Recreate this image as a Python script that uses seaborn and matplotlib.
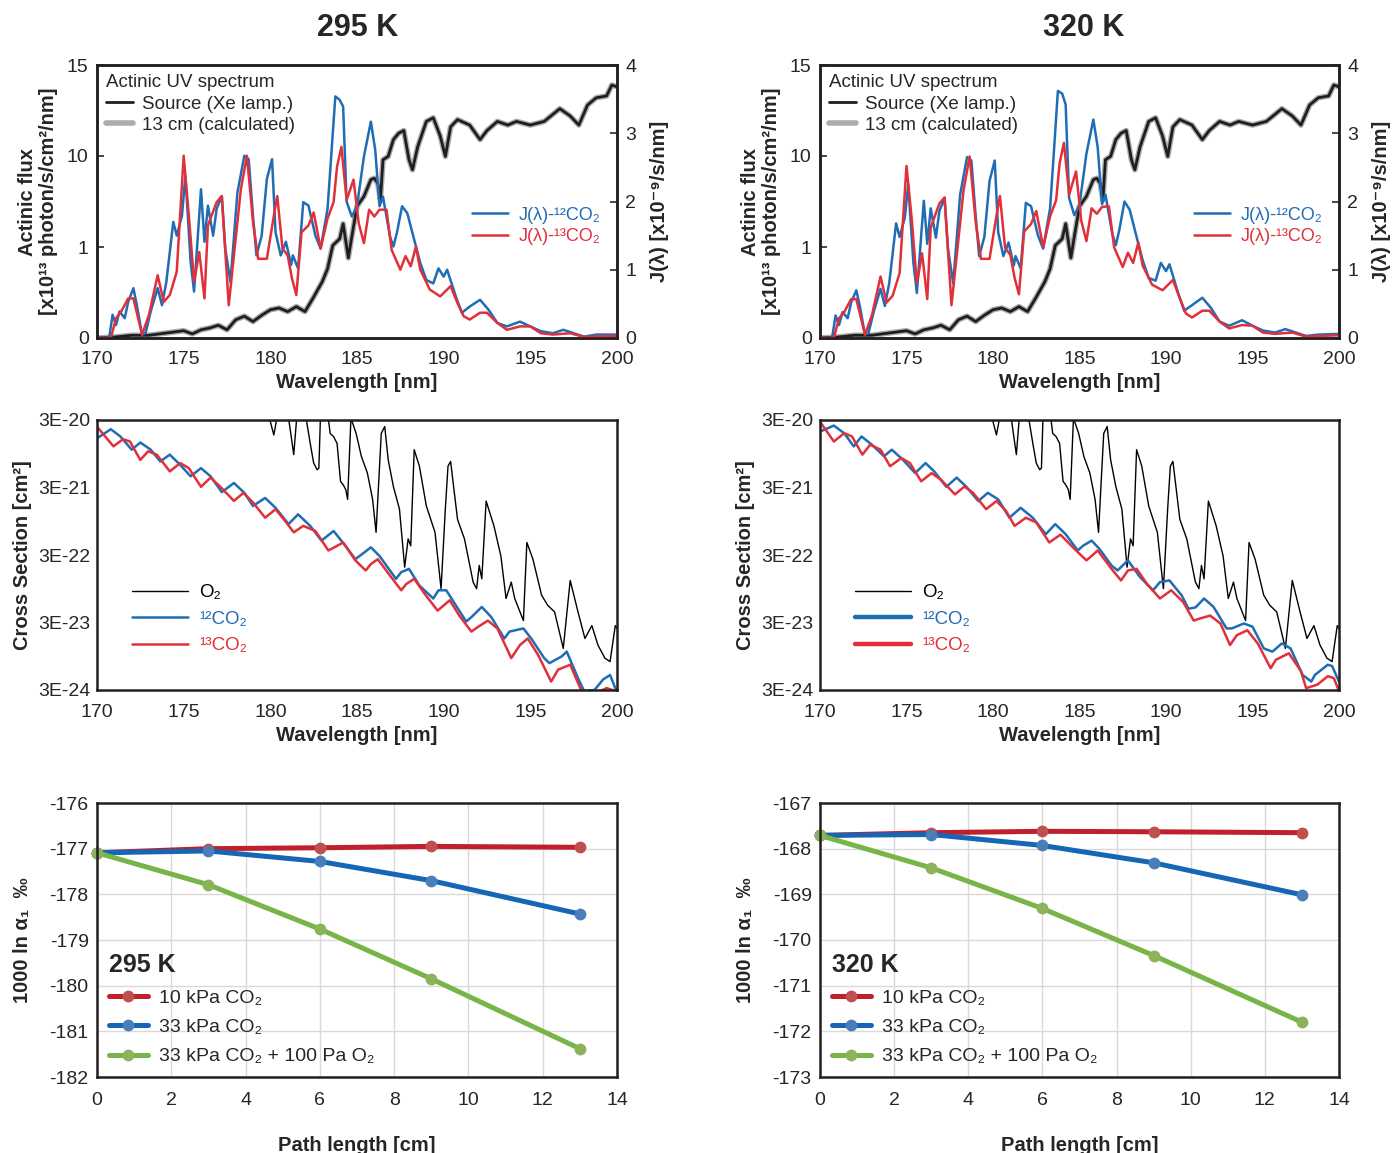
import numpy as np
import matplotlib
matplotlib.use("Agg")
import matplotlib.pyplot as plt
import seaborn as sns
from matplotlib.ticker import NullLocator

# ---------------- data ----------------
# Xe lamp source actinic flux [x1e13 photon/s/cm2/nm]
src_wl = [170.0, 171.0, 172.0, 173.0, 174.0, 175.0, 175.5, 176.0, 176.5, 177.0, 177.5, 178.0,
          178.5, 179.0, 179.5, 180.0, 180.5, 181.0, 181.5, 182.0, 182.5, 183.0, 183.3, 183.6,
          184.0, 184.2, 184.5, 184.7, 185.0, 185.4, 185.8, 186.0, 186.2, 186.35, 186.5, 186.8,
          187.1, 187.4, 187.7, 188.0, 188.2, 188.5, 189.0, 189.4, 189.8, 190.1, 190.4, 190.8,
          191.5, 192.1, 192.5, 193.1, 193.7, 194.2, 195.0, 195.8, 196.7, 197.3, 197.8, 198.3,
          198.8, 199.4, 199.7, 200.0]
src_flux = [0.0, 0.01, 0.03, 0.03, 0.055, 0.08, 0.045, 0.09, 0.11, 0.14, 0.09, 0.2,
            0.24, 0.18, 0.25, 0.31, 0.33, 0.29, 0.345, 0.29, 0.45, 0.62, 0.76, 1.04,
            1.23, 1.8, 0.88, 1.3, 2.8, 3.6, 5.5, 5.7, 5.0, 3.3, 9.1, 9.9,
            10.9, 11.25, 11.4, 9.1, 7.05, 10.5, 11.9, 12.1, 11.1, 9.9, 11.6, 12.0,
            11.7, 10.9, 11.4, 11.9, 11.7, 11.9, 11.7, 11.9, 12.6, 12.2, 11.7, 12.8,
            13.2, 13.3, 13.9, 13.8]

# photolysis rate J(lambda) [x1e-9 /s/nm]
j12_wl = [170.0, 170.7, 170.9, 171.1, 171.3, 171.6, 171.8, 172.1, 172.3, 172.6, 172.8, 173.1,
          173.5, 173.75, 174.0, 174.4, 174.6, 174.9, 175.1, 175.4, 175.6, 176.0, 176.2, 176.4,
          176.7, 176.9, 177.2, 177.4, 177.7, 178.1, 178.5, 178.75, 179.0, 179.2, 179.5, 179.8,
          180.1, 180.3, 180.6, 180.9, 181.2, 181.3, 181.6, 181.9, 182.2, 182.6, 182.9, 183.3,
          183.5, 183.75, 184.0, 184.2, 184.4, 184.7, 185.0, 185.4, 185.8, 186.05, 186.3, 186.5,
          186.9, 187.1, 187.3, 187.6, 187.9, 188.3, 188.65, 189.0, 189.4, 189.7, 190.0, 190.2,
          190.7, 191.05, 191.5, 192.1, 192.6, 193.1, 193.65, 194.4, 195.0, 195.6, 196.3, 196.9,
          197.5, 198.1, 198.8, 199.9]
j12_295 = [0.0, 0.0, 0.34, 0.19, 0.39, 0.29, 0.53, 0.73, 0.48, 0.05, 0.07, 0.39,
           0.73, 0.48, 0.82, 1.70, 1.50, 1.79, 2.38, 1.12, 0.68, 2.18, 1.41, 1.94,
           1.50, 1.89, 2.08, 1.31, 0.82, 2.13, 2.67, 2.62, 1.79, 1.21, 1.50, 2.33,
           2.62, 1.55, 1.21, 1.41, 1.07, 1.21, 1.02, 1.99, 1.94, 1.50, 1.31, 1.89,
           2.62, 3.54, 3.49, 3.39, 2.0, 1.78, 1.93, 2.66, 3.17, 2.76, 1.93, 2.07,
           1.49, 1.34, 1.54, 1.93, 1.83, 1.44, 1.10, 0.85, 0.80, 1.02, 0.90, 1.00,
           0.61, 0.37, 0.46, 0.56, 0.41, 0.22, 0.17, 0.24, 0.17, 0.10, 0.07, 0.12,
           0.07, 0.02, 0.05, 0.05]
j12_320 = [0.0, 0.0, 0.33, 0.19, 0.38, 0.29, 0.52, 0.70, 0.47, 0.05, 0.07, 0.38,
           0.72, 0.47, 0.80, 1.68, 1.48, 1.76, 2.25, 1.10, 0.66, 2.01, 1.38, 1.90,
           1.47, 1.86, 2.05, 1.30, 0.80, 2.10, 2.65, 2.60, 1.78, 1.20, 1.48, 2.30,
           2.60, 1.55, 1.20, 1.40, 1.06, 1.20, 1.02, 1.98, 1.93, 1.50, 1.31, 1.90,
           2.65, 3.62, 3.58, 3.42, 2.05, 1.80, 1.95, 2.70, 3.20, 2.80, 1.96, 2.10,
           1.52, 1.36, 1.58, 2.00, 1.88, 1.48, 1.14, 0.88, 0.84, 1.10, 0.98, 1.08,
           0.66, 0.40, 0.48, 0.59, 0.44, 0.24, 0.18, 0.26, 0.18, 0.11, 0.08, 0.13,
           0.08, 0.03, 0.05, 0.06]

j13_wl = [170.0, 170.8, 171.1, 171.4, 171.8, 172.1, 172.6, 173.0, 173.5, 173.85, 174.2, 174.6,
          175.0, 175.3, 175.6, 175.9, 176.2, 176.4, 176.9, 177.2, 177.6, 177.9, 178.3, 178.65,
          179.0, 179.3, 179.8, 180.2, 180.4, 180.7, 181.0, 181.25, 181.5, 181.8, 182.2, 182.5,
          182.9, 183.3, 183.65, 183.85, 184.1, 184.4, 184.8, 185.1, 185.4, 185.7, 186.0, 186.3,
          186.7, 187.0, 187.5, 187.8, 188.1, 188.4, 188.65, 189.2, 189.8, 190.4, 190.8, 191.15,
          191.5, 192.1, 192.5, 193.1, 193.65, 194.4, 195.0, 195.6, 196.3, 197.3, 198.1, 198.8,
          200.0]
j13_295 = [0.0, 0.0, 0.29, 0.39, 0.58, 0.58, 0.05, 0.34, 0.92, 0.53, 0.63, 0.97,
           2.67, 1.79, 0.82, 1.26, 0.58, 1.65, 1.99, 2.08, 0.48, 1.21, 2.18, 2.67,
           1.70, 1.16, 1.16, 1.79, 2.08, 1.31, 1.21, 0.87, 0.63, 1.55, 1.65, 1.84,
           1.31, 1.75, 1.99, 2.51, 2.80, 2.02, 2.32, 1.68, 1.39, 1.88, 1.78, 1.88,
           1.88, 1.29, 1.00, 1.20, 1.05, 1.34, 1.00, 0.71, 0.61, 0.76, 0.51, 0.32,
           0.27, 0.37, 0.37, 0.22, 0.12, 0.17, 0.17, 0.07, 0.05, 0.07, 0.015, 0.02,
           0.03]
j13_320 = [0.0, 0.0, 0.29, 0.38, 0.57, 0.57, 0.05, 0.33, 0.90, 0.52, 0.62, 0.95,
           2.52, 1.75, 0.80, 1.24, 0.57, 1.62, 1.97, 2.06, 0.48, 1.20, 2.17, 2.66,
           1.70, 1.16, 1.16, 1.79, 2.08, 1.32, 1.22, 0.88, 0.64, 1.56, 1.67, 1.86,
           1.33, 1.78, 2.02, 2.56, 2.86, 2.10, 2.44, 1.72, 1.42, 1.90, 1.82, 1.92,
           1.93, 1.33, 1.04, 1.25, 1.10, 1.40, 1.06, 0.78, 0.70, 0.85, 0.58, 0.36,
           0.30, 0.40, 0.40, 0.24, 0.14, 0.19, 0.18, 0.08, 0.06, 0.08, 0.02, 0.03,
           0.04]

# cross sections [cm2]
xs12_wl_295 = [170.0, 170.8, 171.35, 172.0, 172.5, 173.1, 173.65, 174.2, 174.8, 175.4, 176.0,
               176.55, 177.2, 177.9, 178.5, 179.0, 179.7, 180.3, 181.05, 181.6, 182.3, 182.95,
               183.65, 184.4, 184.9, 185.3, 185.8, 186.3, 186.9, 187.25, 187.55, 188.0, 188.6,
               189.4, 189.7, 190.15, 190.7, 191.3, 191.6, 192.2, 192.75, 193.5, 193.8, 194.6,
               195.05, 195.8, 196.1, 196.8, 197.1, 197.75, 198.1, 198.7, 199.2, 199.6, 199.9,
               200.0]
xs12_295 = [1.61e-20, 2.19e-20, 1.71e-20, 1.09e-20, 1.39e-20, 1.09e-20, 7.3e-21, 9.2e-21, 6.5e-21,
            4.4e-21, 5.8e-21, 4.4e-21, 2.56e-21, 3.5e-21, 2.5e-21, 1.6e-21, 2.1e-21, 1.5e-21,
            8.6e-22, 1.2e-21, 8.1e-22, 4.9e-22, 6.8e-22, 3.9e-22, 2.6e-22, 3.1e-22, 3.9e-22,
            2.9e-22, 1.77e-22, 1.33e-22, 1.67e-22, 1.87e-22, 1.06e-22, 6.8e-23, 9.0e-23, 9.0e-23,
            5.4e-23, 3.1e-23, 3.6e-23, 5.1e-23, 3.6e-23, 1.74e-23, 2.2e-23, 2.45e-23, 1.74e-23,
            8.9e-24, 7.5e-24, 9.4e-24, 1.11e-23, 4.5e-24, 2.9e-24, 3.0e-24, 4.3e-24, 5.0e-24,
            3.2e-24, 2.9e-24]
xs13_wl_295 = [170.0, 170.95, 171.5, 171.9, 172.5, 172.95, 173.45, 174.2, 174.8, 175.3, 176.0,
               176.55, 177.1, 177.9, 178.45, 179.0, 179.7, 180.3, 180.85, 181.35, 181.9, 182.6,
               183.35, 183.85, 184.2, 184.9, 185.5, 185.8, 186.2, 186.9, 187.55, 187.85, 188.3,
               188.9, 189.65, 190.35, 190.9, 191.6, 192.0, 192.55, 193.1, 193.9, 194.4, 194.85,
               195.45, 196.2, 196.6, 197.3, 197.95, 198.5, 199.4, 199.9, 200.0]
xs13_295 = [2.39e-20, 1.22e-20, 1.56e-20, 1.44e-20, 7.7e-21, 1.03e-20, 9.2e-21, 5.2e-21, 6.9e-21,
            5.8e-21, 3.07e-21, 4.2e-21, 3.1e-21, 1.9e-21, 2.5e-21, 1.8e-21, 1.07e-21, 1.43e-21,
            9.6e-22, 6.5e-22, 8.1e-22, 6.8e-22, 3.5e-22, 4.1e-22, 4.6e-22, 2.5e-22, 1.77e-22,
            2.2e-22, 2.6e-22, 1.49e-22, 9.0e-23, 1.12e-22, 1.33e-22, 8.0e-23, 4.5e-23, 6.4e-23,
            3.8e-23, 2.2e-23, 2.6e-23, 3.2e-23, 2.45e-23, 8.9e-24, 1.39e-23, 1.74e-23, 9.9e-24,
            4.0e-24, 6.0e-24, 7.1e-24, 2.9e-24, 2.5e-24, 3.2e-24, 2.9e-24, 2.8e-24]

xs12_wl_320 = [170.0, 170.8, 171.4, 171.95, 172.4, 173.0, 173.7, 174.15, 174.8, 175.5, 176.1,
               176.6, 177.3, 177.9, 178.45, 179.15, 179.7, 180.3, 180.95, 181.6, 182.3, 183.05,
               183.6, 184.2, 184.9, 185.2, 185.7, 186.15, 186.85, 187.2, 187.8, 188.5, 189.25,
               189.65, 190.2, 190.9, 191.3, 191.7, 192.2, 192.75, 193.5, 193.8, 194.5, 195.0,
               195.65, 196.15, 196.7, 197.2, 197.9, 198.4, 198.6, 199.35, 199.6, 200.0]
xs12_320 = [2.02e-20, 2.48e-20, 1.91e-20, 1.22e-20, 1.71e-20, 1.29e-20, 8.7e-21, 1.09e-20, 7.7e-21,
            4.9e-21, 6.9e-21, 5.2e-21, 3.07e-21, 4.2e-21, 3.1e-21, 1.89e-21, 2.5e-21, 2.0e-21,
            1.07e-21, 1.5e-21, 1.07e-21, 6.1e-22, 8.6e-22, 6.1e-22, 3.5e-22, 4.1e-22, 4.9e-22,
            3.7e-22, 2.1e-22, 1.77e-22, 2.5e-22, 1.41e-22, 9.0e-23, 1.19e-22, 1.26e-22, 7.6e-23,
            4.8e-23, 5.0e-23, 6.8e-23, 5.1e-23, 2.45e-23, 2.45e-23, 2.9e-23, 2.6e-23, 1.24e-23,
            1.11e-23, 1.47e-23, 1.24e-23, 5.0e-24, 4.0e-24, 5.0e-24, 7.1e-24, 6.8e-24, 4.0e-24]
xs13_wl_320 = [170.0, 170.8, 171.4, 171.85, 172.45, 172.9, 173.5, 174.05, 174.7, 175.2, 175.85,
               176.45, 177.0, 177.8, 178.35, 178.85, 179.6, 180.2, 180.75, 181.25, 181.9, 182.5,
               183.25, 183.9, 184.8, 185.4, 185.7, 186.05, 186.85, 187.4, 187.8, 188.3, 188.9,
               189.65, 190.3, 191.0, 191.6, 191.9, 192.55, 193.15, 193.7, 194.1, 194.7, 195.3,
               196.05, 196.35, 197.1, 197.8, 198.1, 198.75, 199.35, 199.7, 200.0]
xs13_320 = [2.83e-20, 1.44e-20, 1.91e-20, 1.71e-20, 9.2e-21, 1.29e-20, 1.09e-20, 6.2e-21, 8.2e-21,
            6.9e-21, 3.7e-21, 4.9e-21, 3.9e-21, 2.37e-21, 3.1e-21, 2.5e-21, 1.43e-21, 1.89e-21,
            1.35e-21, 8.1e-22, 1.07e-21, 9.1e-22, 4.6e-22, 6.0e-22, 3.5e-22, 2.5e-22, 2.9e-22,
            3.5e-22, 1.87e-22, 1.26e-22, 1.77e-22, 1.87e-22, 1.12e-22, 6.8e-23, 9.0e-23, 6.0e-23,
            3.2e-23, 3.4e-23, 3.8e-23, 2.9e-23, 1.39e-23, 1.95e-23, 2.3e-23, 1.47e-23, 6.3e-24,
            8.4e-24, 1.05e-23, 5.7e-24, 3.2e-24, 3.6e-24, 4.8e-24, 4.5e-24, 2.9e-24]

o2_wl = [179.85, 180.2, 180.45, 181.0, 181.35, 181.55, 182.0, 182.3, 182.5, 182.7, 182.8, 182.9,
         183.3, 183.45, 183.65, 183.85, 184.05, 184.2, 184.35, 184.46, 184.65, 184.95, 185.25,
         185.6, 185.9, 186.1, 186.4, 186.6, 186.8, 187.1, 187.45, 187.75, 187.95, 188.1, 188.3,
         188.6, 189.0, 189.5, 189.85, 190.1, 190.25, 190.4, 190.8, 191.2, 191.7, 191.9, 192.05,
         192.2, 192.45, 192.9, 193.3, 193.6, 193.9, 194.1, 194.6, 194.8, 195.15, 195.65, 196.0,
         196.4, 196.9, 197.3, 197.75, 198.15, 198.55, 198.9, 199.3, 199.6, 199.9, 200.0]
o2_xs = [4e-20, 1.8e-20, 4e-20, 4e-20, 9.2e-21, 4e-20, 4e-20, 1.36e-20, 6.9e-21, 5.5e-21, 5.8e-21, 4e-20,
         4e-20, 1.9e-20, 1.7e-20, 1.35e-20, 3.7e-21, 3.3e-21, 2.8e-21, 2.0e-21, 3.2e-20, 1.9e-20, 8.7e-21,
         4.9e-21, 2.0e-21, 6.5e-22, 1.9e-20, 2.4e-20, 7.7e-21, 3.1e-21, 1.43e-21, 1.98e-22, 5.2e-22, 4.1e-22,
         1.09e-20, 6.2e-21, 1.6e-21, 6.5e-22, 9.5e-23, 1.5e-21, 6.2e-21, 7.3e-21, 1.01e-21, 5.2e-22,
         1.19e-22, 9.5e-23, 2.1e-22, 1.33e-22, 1.89e-21, 8.1e-22, 2.9e-22, 6.8e-23, 1.19e-22, 6.8e-23,
         3.2e-23, 4.6e-22, 2.6e-22, 7.6e-23, 5.4e-23, 4.3e-23, 1.24e-23, 1.26e-22, 4.3e-23, 1.74e-23,
         2.7e-23, 1.39e-23, 8.9e-24, 7.9e-24, 2.7e-23, 2.45e-23]

# 1000 ln(alpha1) [permil] versus path length
path_cm = [0, 3, 6, 9, 13]
d10_295 = [-177.09, -177.00, -176.98, -176.95, -176.97]
d33_295 = [-177.09, -177.05, -177.28, -177.70, -178.43]
d33o2_295 = [-177.09, -177.79, -178.76, -179.85, -181.38]
d10_320 = [-167.71, -167.65, -167.62, -167.63, -167.65]
d33_320 = [-167.71, -167.69, -167.93, -168.31, -169.01]
d33o2_320 = [-167.71, -168.42, -169.31, -170.34, -171.80]

# ---------------- style ----------------
sns.set_theme(style="white")
plt.rcParams["font.family"] = ["Liberation Sans", "DejaVu Sans"]
plt.rcParams["axes.edgecolor"] = "#231f20"
plt.rcParams["axes.linewidth"] = 1.8
plt.rcParams["axes.unicode_minus"] = False

BLUE = "#1f6db5"
RED = "#e1303a"
DARK = "#1e1e1e"
GRAY = "#a3a3a3"
TICK = 14
LAB = 14.5


def flux_fwd(v):
    v = np.asarray(v, dtype=float)
    lo = v / 3.0
    mid = (1.0 + np.log10(np.clip(v, 1.0, 10.0))) / 3.0
    hi = 2.0 / 3.0 + (v - 10.0) / 15.0
    return np.where(v <= 1, lo, np.where(v <= 10, mid, hi))


def flux_inv(f):
    f = np.asarray(f, dtype=float)
    lo = 3.0 * f
    mid = 10.0 ** (3.0 * np.clip(f, 1 / 3, 2 / 3) - 1.0)
    hi = 10.0 + 15.0 * (f - 2 / 3)
    return np.where(f <= 1 / 3, lo, np.where(f <= 2 / 3, mid, hi))


def flux_panel(ax, j12, j13):
    sns.lineplot(x=src_wl, y=src_flux, ax=ax, color=GRAY, lw=4.0, alpha=0.9, label="13 cm (calculated)")
    sns.lineplot(x=src_wl, y=src_flux, ax=ax, color=DARK, lw=2.0, label="Source (Xe lamp.)")
    ax.set_yscale("function", functions=(flux_fwd, flux_inv))
    ax.set_xlim(170, 200)
    ax.set_ylim(0, 15)
    ax.set_yticks([0, 1, 10, 15])
    ax.set_yticklabels(["0", "1", "10", "15"])
    ax.set_xticks(range(170, 201, 5))
    ax.tick_params(direction="in", length=5, width=1.2, labelsize=TICK, pad=6)
    ax.tick_params(axis="x", pad=9)
    ax.set_xlabel("Wavelength [nm]", fontsize=LAB, fontweight="bold", labelpad=4)
    ax.set_ylabel("Actinic flux\n[x10¹³ photon/s/cm²/nm]", fontsize=LAB, fontweight="bold",
                  linespacing=1.15)
    ax.yaxis.set_label_coords(-0.075, 0.5)
    h, l = ax.get_legend_handles_labels()
    ax.legend(handles=[h[1], h[0]], labels=[l[1], l[0]], title="Actinic UV spectrum",
              loc="upper left", frameon=False, alignment="left", fontsize=13.5,
              title_fontsize=13.5, handlelength=1.4, handletextpad=0.5,
              labelspacing=0.22, borderaxespad=0.1)

    ax2 = ax.twinx()
    sns.lineplot(x=j12_wl, y=j12, ax=ax2, color=BLUE, lw=1.8, label="J(λ)-¹²CO₂")
    sns.lineplot(x=j13_wl, y=j13, ax=ax2, color=RED, lw=1.8, label="J(λ)-¹³CO₂")
    ax2.set_ylim(0, 4)
    ax2.set_yticks([0, 1, 2, 3, 4])
    ax2.tick_params(direction="in", length=5, width=1.2, labelsize=TICK, pad=6)
    ax2.set_ylabel("J(λ) [x10⁻⁹/s/nm]", fontsize=LAB, fontweight="bold", labelpad=10)
    leg = ax2.legend(loc="center right", bbox_to_anchor=(1.0, 0.41), frameon=False,
                     fontsize=13, handlelength=2.0, handletextpad=0.6, labelspacing=0.25)
    for t, c in zip(leg.get_texts(), [BLUE, RED]):
        t.set_color(c)
    for s in ax2.spines.values():
        s.set_linewidth(1.8)


def xsec_panel(ax, wl12, xs12, wl13, xs13, thick_leg):
    sns.lineplot(x=o2_wl, y=o2_xs, ax=ax, color="black", lw=1.0, label="O₂")
    sns.lineplot(x=wl12, y=xs12, ax=ax, color=BLUE, lw=1.8, label="¹²CO₂")
    sns.lineplot(x=wl13, y=xs13, ax=ax, color=RED, lw=1.8, label="¹³CO₂")
    ax.set_yscale("log")
    ax.set_xlim(170, 200)
    ax.set_ylim(3e-24, 3e-20)
    ax.set_yticks([3e-24, 3e-23, 3e-22, 3e-21, 3e-20])
    ax.set_yticklabels(["3E-24", "3E-23", "3E-22", "3E-21", "3E-20"])
    ax.yaxis.set_minor_locator(NullLocator())
    ax.set_xticks(range(170, 201, 5))
    ax.tick_params(direction="in", length=5, width=1.2, labelsize=TICK, pad=5)
    ax.tick_params(axis="x", pad=10)
    ax.set_xlabel("Wavelength [nm]", fontsize=LAB, fontweight="bold", labelpad=4)
    ax.set_ylabel("Cross Section [cm²]", fontsize=LAB, fontweight="bold")
    ax.yaxis.set_label_coords(-0.125, 0.5)
    leg = ax.legend(loc="lower left", bbox_to_anchor=(0.035, 0.07), frameon=False,
                    fontsize=13.5, handlelength=3.0, handletextpad=0.6, labelspacing=0.5)
    for t, ln, c in zip(leg.get_texts(), leg.get_lines(), ["black", BLUE, RED]):
        t.set_color(c)
        if thick_leg and c != "black":
            ln.set_linewidth(3.2)


def ratio_panel(ax, d10, d33, d33o2, temp, ylo):
    kw = dict(marker="o", ms=8.5, mew=0, lw=3.6)
    sns.lineplot(x=path_cm, y=d10, ax=ax, color="#c0202c", mfc="#c0504d", mec="#c0504d",
                 label="10 kPa CO₂", **kw)
    sns.lineplot(x=path_cm, y=d33, ax=ax, color="#1566b5", mfc="#4a7ebb", mec="#4a7ebb",
                 label="33 kPa CO₂", **kw)
    sns.lineplot(x=path_cm, y=d33o2, ax=ax, color="#78b548", mfc="#8cb25a", mec="#8cb25a",
                 label="33 kPa CO₂ + 100 Pa O₂", **kw)
    for ln in ax.get_lines():
        ln.set_clip_on(False)
    ax.set_xlim(0, 14)
    ax.set_ylim(ylo, ylo + 6)
    ax.set_xticks(range(0, 15, 2))
    ax.set_yticks(range(ylo, ylo + 7))
    ax.grid(True, color="#d9d9d9", lw=1.0)
    ax.tick_params(length=0, labelsize=TICK)
    ax.tick_params(axis="x", pad=11)
    ax.tick_params(axis="y", pad=6)
    ax.set_xlabel("Path length [cm]", fontsize=LAB, fontweight="bold", labelpad=19)
    ax.set_ylabel("1000 ln α₁  ‰", fontsize=LAB, fontweight="bold")
    ax.yaxis.set_label_coords(-0.125, 0.5)
    ax.legend(title=temp, loc="lower left", bbox_to_anchor=(0.0, 0.0), frameon=False,
              alignment="left", fontsize=14, title_fontproperties={"weight": "bold", "size": 18},
              handlelength=2.0, handletextpad=0.6, labelspacing=0.6, borderaxespad=0.2)


fig = plt.figure(figsize=(13.94, 11.53), dpi=100)
W = 1394.0
H = 1153.0


def box(x0, y0, x1, y1):
    return [x0 / W, 1 - y1 / H, (x1 - x0) / W, (y1 - y0) / H]


ax_f1 = fig.add_axes(box(97, 65, 617, 338))
ax_f2 = fig.add_axes(box(820, 65, 1339, 338))
ax_x1 = fig.add_axes(box(97, 420, 617, 690))
ax_x2 = fig.add_axes(box(820, 420, 1339, 690))
ax_r1 = fig.add_axes(box(97, 803, 617, 1077))
ax_r2 = fig.add_axes(box(820, 803, 1339, 1077))

flux_panel(ax_f1, j12_295, j13_295)
flux_panel(ax_f2, j12_320, j13_320)
xsec_panel(ax_x1, xs12_wl_295, xs12_295, xs13_wl_295, xs13_295, False)
xsec_panel(ax_x2, xs12_wl_320, xs12_320, xs13_wl_320, xs13_320, True)
ratio_panel(ax_r1, d10_295, d33_295, d33o2_295, "295 K", -182)
ratio_panel(ax_r2, d10_320, d33_320, d33o2_320, "320 K", -173)

fig.text(358 / W, 1 - 28 / H, "295 K", ha="center", va="center", fontsize=22, fontweight="bold")
fig.text(1084 / W, 1 - 28 / H, "320 K", ha="center", va="center", fontsize=22, fontweight="bold")

fig.savefig("out.png", dpi=100)
